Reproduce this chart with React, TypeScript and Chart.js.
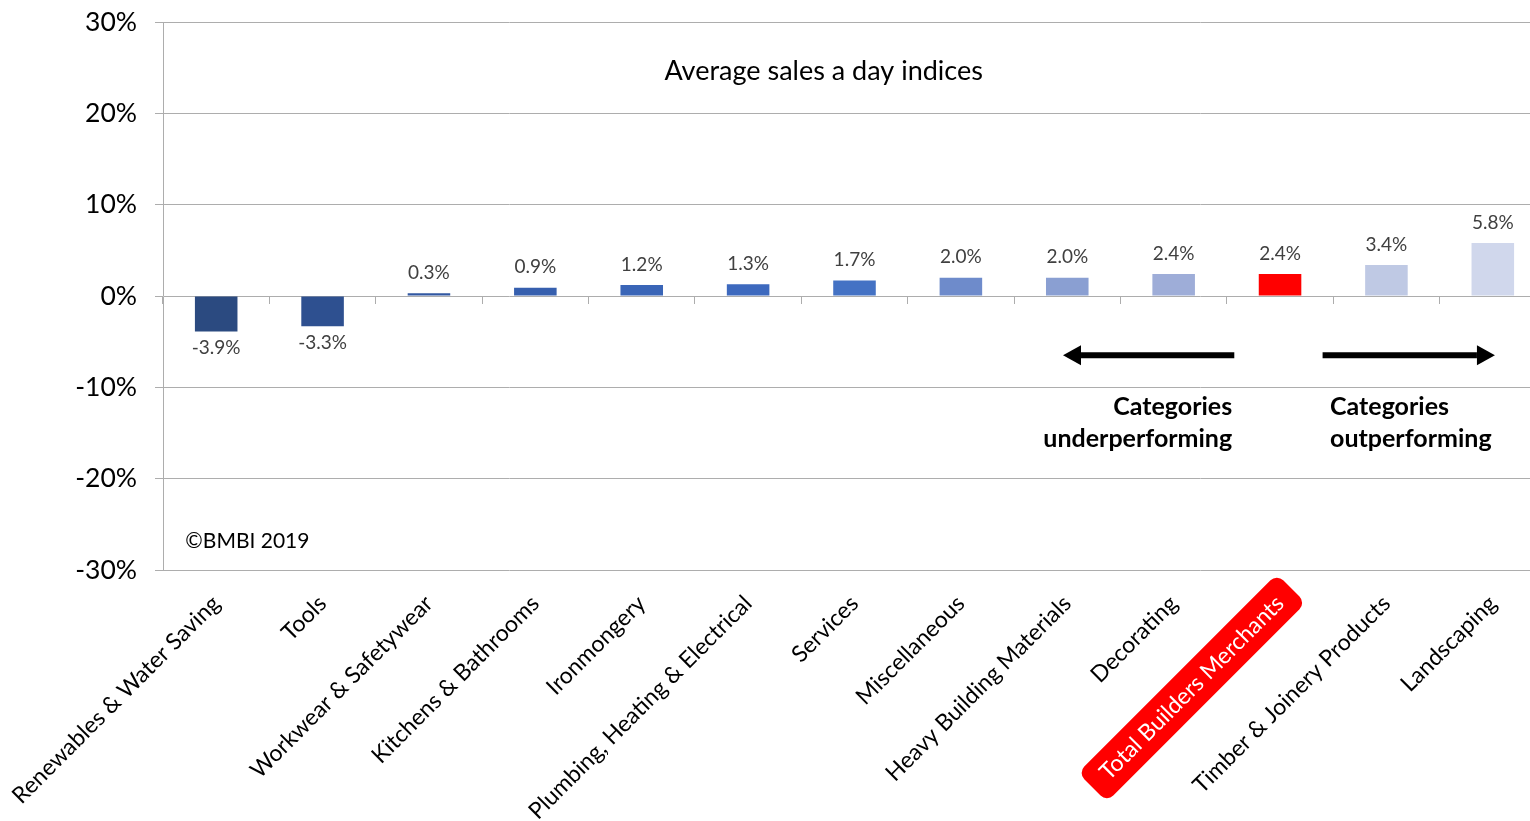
import React, { useEffect, useRef } from 'react';
import { Chart, registerables } from 'chart.js';

Chart.register(...registerables);

const categories = [
  'Renewables & Water Saving',
  'Tools',
  'Workwear & Safetywear',
  'Kitchens & Bathrooms',
  'Ironmongery',
  'Plumbing, Heating & Electrical',
  'Services',
  'Miscellaneous',
  'Heavy Building Materials',
  'Decorating',
  'Total Builders Merchants',
  'Timber & Joinery Products',
  'Landscaping',
];
const values = [-3.9, -3.3, 0.3, 0.9, 1.2, 1.3, 1.7, 2.0, 2.0, 2.4, 2.4, 3.4, 5.8];
const barColors = [
  '#2B4A80', '#2E5090', '#3258A2', '#365FAE', '#3A65B7', '#3D69BE', '#4472C4',
  '#6E8BCB', '#8A9FD2', '#9EADD8', '#FF0000', '#BFC9E4', '#D0D7EC',
];
const yMin = -30;
const yMax = 30;
const yStep = 10;
const highlightIndex = 10;
const titleText = 'Average sales a day indices';
const copyrightText = '©BMBI 2019';
const underText = ['Categories', 'underperforming'];
const outText = ['Categories', 'outperforming'];

const FONT = 'Lato, "Open Sans", sans-serif';
const GRID = '#ADADAD';

const annotationPlugin = {
  id: 'annotations',
  beforeDraw(chart: any) {
    const ctx = chart.ctx;
    const xs = chart.scales.x;
    const items = xs.getLabelItems(chart.chartArea);
    const item = items[highlightIndex];
    if (!item) return;
    const o = item.options;
    ctx.save();
    ctx.translate(o.translation[0], o.translation[1]);
    ctx.rotate(o.rotation);
    ctx.font = item.font.string;
    const w = ctx.measureText(String(item.label)).width;
    const h = item.font.size;
    const padX = 16;
    const padY = 9;
    const x0 = o.textAlign === 'right' ? -w - padX : -padX;
    const y0 = item.textOffset - h / 2 - padY;
    ctx.fillStyle = '#FF0000';
    ctx.beginPath();
    ctx.roundRect(x0, y0, w + 2 * padX, h + 2 * padY, 9);
    ctx.fill();
    ctx.restore();
  },
  afterDatasetsDraw(chart: any) {
    const ctx = chart.ctx;
    const xs = chart.scales.x;
    const ys = chart.scales.y;
    const meta = chart.getDatasetMeta(0);
    ctx.save();
    // value labels
    ctx.font = `19px ${FONT}`;
    ctx.fillStyle = '#404040';
    ctx.textAlign = 'center';
    meta.data.forEach((bar: any, i: number) => {
      const v = values[i];
      const txt = v.toFixed(1) + '%';
      if (v >= 0) {
        ctx.textBaseline = 'bottom';
        ctx.fillText(txt, bar.x, bar.y - 11);
      } else {
        ctx.textBaseline = 'top';
        ctx.fillText(txt, bar.x, bar.y + 7);
      }
    });

    const c0 = xs.getPixelForValue(0);
    const cw = xs.getPixelForValue(1) - c0;
    const cat = (c: number) => c0 + c * cw;

    // title
    ctx.fillStyle = '#000';
    ctx.font = `27px ${FONT}`;
    ctx.textAlign = 'center';
    ctx.textBaseline = 'middle';
    ctx.fillText(titleText, cat(5.71), ys.getPixelForValue(24.6));

    // copyright
    ctx.font = `21px ${FONT}`;
    ctx.textAlign = 'left';
    ctx.fillText(copyrightText, cat(-0.29), ys.getPixelForValue(-26.9));

    // arrows
    const ay = ys.getPixelForValue(-6.5);
    const drawArrow = (xTail: number, xHead: number) => {
      const dir = Math.sign(xHead - xTail);
      const headLen = 18;
      ctx.strokeStyle = '#000';
      ctx.fillStyle = '#000';
      ctx.lineWidth = 6;
      ctx.beginPath();
      ctx.moveTo(xTail, ay);
      ctx.lineTo(xHead - dir * headLen, ay);
      ctx.stroke();
      ctx.beginPath();
      ctx.moveTo(xHead, ay);
      ctx.lineTo(xHead - dir * headLen, ay - 10);
      ctx.lineTo(xHead - dir * headLen, ay + 10);
      ctx.closePath();
      ctx.fill();
    };
    drawArrow(cat(9.57), cat(7.96));
    drawArrow(cat(10.40), cat(12.02));

    // category notes
    ctx.font = `bold 25px ${FONT}`;
    ctx.textBaseline = 'middle';
    ctx.textAlign = 'right';
    ctx.fillText(underText[0], cat(9.55), ys.getPixelForValue(-12.15));
    ctx.fillText(underText[1], cat(9.55), ys.getPixelForValue(-15.66));
    ctx.textAlign = 'left';
    ctx.fillText(outText[0], cat(10.47), ys.getPixelForValue(-12.15));
    ctx.fillText(outText[1], cat(10.47), ys.getPixelForValue(-15.66));
    ctx.restore();
  },
};

export default function App() {
  const ref = useRef<HTMLCanvasElement>(null);
  useEffect(() => {
    if (!ref.current) return;
    const chart = new Chart(ref.current, {
      type: 'bar',
      data: {
        labels: categories,
        datasets: [
          {
            data: values,
            backgroundColor: barColors,
            borderWidth: 0,
            barPercentage: 0.8,
            categoryPercentage: 0.5,
          },
        ],
      },
      options: {
        animation: false,
        responsive: false,
        maintainAspectRatio: false,
        layout: { padding: { top: 22, right: 4, bottom: 0, left: 0 } },
        plugins: {
          legend: { display: false },
          tooltip: { enabled: false },
          title: { display: false },
        },
        scales: {
          x: {
            type: 'category',
            position: 'bottom',
            grid: { display: false, drawTicks: false },
            border: { display: false },
            ticks: {
              minRotation: 45,
              maxRotation: 45,
              autoSkip: false,
              padding: 20,
              font: { family: FONT, size: 23 },
              color: (c: any) => (c.index === highlightIndex ? '#FFFFFF' : '#000000'),
            },
            afterFit: (s: any) => {
              s.height = 251;
              s.paddingLeft = 0;
              s.paddingRight = 0;
            },
          },
          xz: {
            type: 'category',
            position: { y: 0 },
            grid: {
              display: true,
              drawOnChartArea: false,
              drawTicks: true,
              offset: true,
              tickLength: 8,
              color: GRID,
            },
            border: { display: false },
            ticks: { display: false },
          },
          y: {
            type: 'linear',
            min: yMin,
            max: yMax,
            grid: { color: GRID, tickLength: 8, lineWidth: 1 },
            border: { display: true, color: GRID },
            ticks: {
              stepSize: yStep,
              padding: 18,
              font: { family: FONT, size: 26.5 },
              color: '#000',
              callback: (v: any) => v + '%',
            },
            afterFit: (s: any) => {
              s.width = 163;
              s.paddingTop = 0;
              s.paddingBottom = 0;
            },
          },
        },
      } as any,
      plugins: [annotationPlugin],
    });
    return () => chart.destroy();
  }, []);
  return (
    <div
      style={{
        position: 'fixed',
        left: 0,
        top: 0,
        width: 1530,
        height: 821,
        overflow: 'hidden',
        background: '#fff',
      }}
    >
      <canvas ref={ref} width={1550} height={821} style={{ width: 1550, height: 821, display: 'block' }} />
    </div>
  );
}
